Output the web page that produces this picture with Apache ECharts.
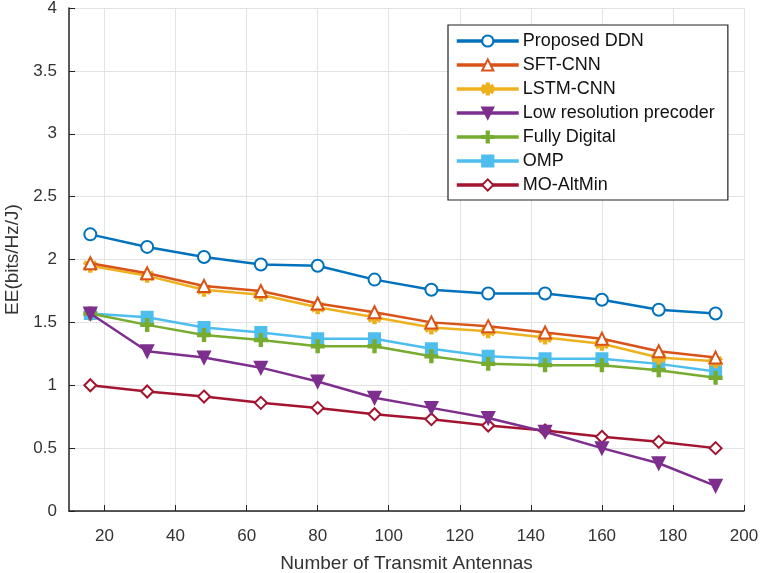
<!DOCTYPE html>
<html>
<head>
<meta charset="utf-8">
<script src="https://cdn.jsdelivr.net/npm/echarts@6/dist/echarts.min.js"></script>
<style>
  html, body { margin: 0; padding: 0; background: #fff; }
  #chart { width: 762px; height: 573px; }
</style>
</head>
<body>
<div id="chart"></div>
<script>
var antennas = [16, 32, 48, 64, 80, 96, 112, 128, 144, 160, 176, 192];
var xTicks = [20, 40, 60, 80, 100, 120, 140, 160, 180, 200];

var ddn = [2.2, 2.1, 2.02, 1.96, 1.95, 1.84, 1.76, 1.73, 1.73, 1.68, 1.6, 1.57];
var sftCnn = [1.97, 1.89, 1.79, 1.75, 1.65, 1.58, 1.5, 1.47, 1.42, 1.37, 1.27, 1.22];
var lstmCnn = [1.95, 1.87, 1.76, 1.72, 1.62, 1.54, 1.46, 1.43, 1.38, 1.33, 1.22, 1.19];
var lowRes = [1.57, 1.27, 1.22, 1.14, 1.03, 0.9, 0.82, 0.74, 0.63, 0.5, 0.38, 0.2];
var fullyDigital = [1.57, 1.48, 1.4, 1.36, 1.31, 1.31, 1.23, 1.17, 1.16, 1.16, 1.12, 1.06];
var omp = [1.57, 1.54, 1.46, 1.42, 1.37, 1.37, 1.29, 1.23, 1.21, 1.21, 1.17, 1.11];
var moAltMin = [1.0, 0.95, 0.91, 0.86, 0.82, 0.77, 0.73, 0.68, 0.64, 0.59, 0.55, 0.5];

var names = ['Proposed DDN', 'SFT-CNN', 'LSTM-CNN', 'Low resolution precoder', 'Fully Digital', 'OMP', 'MO-AltMin'];
var colors = ['#0072BD', '#D95319', '#EDB120', '#7E2F8E', '#77AC30', '#4DBEEE', '#A2142F'];

// marker shapes (matlab style)
var starPath = 'path://M4,0L6,0L6,3.3L8.9,1.6L9.9,3.3L7,5L9.9,6.7L8.9,8.4L6,6.7L6,10L4,10L4,6.7L1.1,8.4L0.1,6.7L3,5L0.1,3.3L1.1,1.6L4,3.3Z';
var plusPath = 'path://M4,0L6,0L6,4L10,4L10,6L6,6L6,10L4,10L4,6L0,6L0,4L4,4Z';
var markers = ['emptyCircle', 'emptyTriangle', starPath, 'path://M0,0L10,0L5,9Z', plusPath, 'rect', 'emptyDiamond'];
var sizes = [12, 12, 12, 12, 12, 11, 12];

function pairs(vals) {
  return antennas.map(function(a, i) { return [a, vals[i]]; });
}

var allData = [ddn, sftCnn, lstmCnn, lowRes, fullyDigital, omp, moAltMin];
var ink = '#333333';
var grid = '#e3e3e3';

var chart = echarts.init(document.getElementById('chart'), null, { renderer: 'canvas' });
chart.setOption({
  animation: false,
  textStyle: { fontFamily: 'Liberation Sans, Arial, sans-serif' },
  grid: { left: 69, right: 18, top: 8, bottom: 62, outerBoundsMode: 'none', containLabel: false },
  legend: {
    data: names,
    orient: 'vertical',
    left: 448, top: 25,
    padding: [7, 13, 6, 7],
    itemWidth: 62, itemHeight: 14, itemGap: 6,
    backgroundColor: '#fff',
    borderColor: '#222', borderWidth: 1.2,
    lineStyle: { width: 3.5 },
    textStyle: { color: '#111', fontSize: 18, lineHeight: 18, padding: [0, 0, 0, -1] }
  },
  xAxis: {
    type: 'value', min: 10, max: 200,
    name: 'Number of Transmit Antennas', nameLocation: 'middle', nameGap: 43,
    nameTextStyle: { color: ink, fontSize: 19 },
    axisLine: { lineStyle: { color: '#222', width: 1.5 } },
    axisTick: { inside: true, length: 6, lineStyle: { color: '#222' }, customValues: xTicks },
    axisLabel: { color: ink, fontSize: 17, margin: 17, customValues: xTicks },
    splitLine: { show: true, lineStyle: { color: grid, width: 1 } }
  },
  yAxis: {
    type: 'value', min: 0, max: 4, interval: 0.5,
    name: 'EE(bits/Hz/J)', nameLocation: 'middle', nameGap: 38,
    nameTextStyle: { color: ink, fontSize: 19 },
    axisLine: { show: true, lineStyle: { color: '#222', width: 1.5 } },
    axisTick: { show: true, inside: true, length: 6, lineStyle: { color: '#222' } },
    axisLabel: { color: ink, fontSize: 17, margin: 12 },
    splitLine: { show: true, lineStyle: { color: grid, width: 1 } }
  },
  series: allData.map(function(vals, i) {
    return {
      name: names[i],
      type: 'line',
      data: pairs(vals),
      symbol: markers[i],
      symbolSize: sizes[i],
      showAllSymbol: true,
      lineStyle: { color: colors[i], width: 2.5 },
      itemStyle: { color: colors[i], borderColor: colors[i], borderWidth: 2 },
      z: 10 - i
    };
  })
});
</script>
</body>
</html>
